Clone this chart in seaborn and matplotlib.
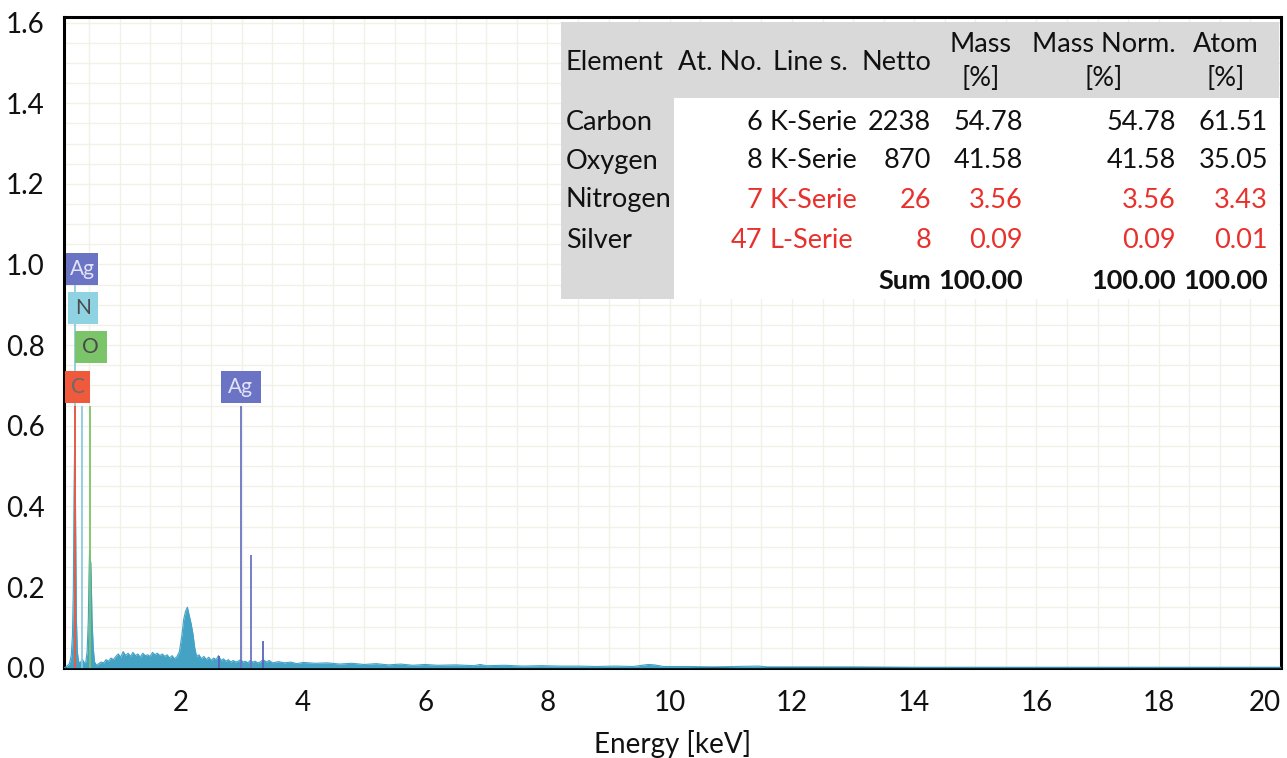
import numpy as np
import pandas as pd
import seaborn as sns
import matplotlib.pyplot as plt
from matplotlib.patches import Rectangle
from matplotlib.ticker import MultipleLocator

# ---------------- data ----------------
energy = [0.10, 0.14, 0.18, 0.21, 0.23, 0.245, 0.255, 0.265, 0.275, 0.285, 0.295, 0.31, 0.33,
          0.36, 0.39, 0.42, 0.45, 0.47, 0.49, 0.50, 0.51, 0.52, 0.53, 0.54, 0.55, 0.57, 0.59,
          0.62, 0.66, 0.70, 0.74, 0.78, 0.82, 0.86, 0.90, 0.94, 0.98, 1.02, 1.06, 1.10, 1.14,
          1.18, 1.22, 1.26, 1.30, 1.34, 1.38, 1.42, 1.46, 1.50, 1.54, 1.58, 1.62, 1.66, 1.70,
          1.74, 1.78, 1.82, 1.86, 1.90, 1.94, 1.98, 2.02, 2.05, 2.08, 2.11, 2.14, 2.17, 2.20,
          2.23, 2.26, 2.30, 2.34, 2.38, 2.42, 2.46, 2.50, 2.54, 2.58, 2.62, 2.66, 2.70, 2.74,
          2.78, 2.82, 2.86, 2.90, 2.94, 2.98, 3.02, 3.06, 3.10, 3.14, 3.18, 3.22, 3.26, 3.30,
          3.35, 3.40, 3.45, 3.50, 3.60, 3.70, 3.80, 3.90, 4.00, 4.2, 4.4, 4.6, 4.8, 5.0, 5.2,
          5.4, 5.6, 5.8, 6.0, 6.2, 6.5, 6.8, 6.9, 7.0, 7.3, 7.6, 7.9, 8.2, 8.5, 8.8, 9.1, 9.4,
          9.65, 9.75, 9.9, 10.3, 10.7, 11.1, 11.45, 11.6, 12.0, 13.0, 14.0, 16.0, 18.0, 20.0]
counts = [0.000, 0.004, 0.010, 0.030, 0.080, 0.200, 0.420, 0.540, 0.500, 0.300, 0.120, 0.040, 0.015,
          0.012, 0.022, 0.012, 0.015, 0.040, 0.120, 0.220, 0.290, 0.270, 0.260, 0.200, 0.120, 0.050, 0.015,
          0.006, 0.010, 0.014, 0.012, 0.020, 0.016, 0.024, 0.020, 0.028, 0.034, 0.026, 0.040, 0.030, 0.036,
          0.028, 0.038, 0.030, 0.034, 0.026, 0.036, 0.030, 0.032, 0.028, 0.038, 0.032, 0.036, 0.030, 0.034,
          0.028, 0.032, 0.024, 0.030, 0.022, 0.028, 0.040, 0.080, 0.120, 0.140, 0.150, 0.130, 0.110, 0.085,
          0.050, 0.028, 0.032, 0.022, 0.028, 0.020, 0.026, 0.018, 0.024, 0.020, 0.030, 0.018, 0.022, 0.016,
          0.020, 0.014, 0.018, 0.014, 0.016, 0.020, 0.014, 0.016, 0.012, 0.018, 0.014, 0.016, 0.012, 0.014,
          0.020, 0.014, 0.018, 0.012, 0.015, 0.012, 0.014, 0.010, 0.013, 0.011, 0.012, 0.009, 0.011, 0.008, 0.010,
          0.007, 0.009, 0.006, 0.008, 0.006, 0.007, 0.005, 0.008, 0.005, 0.006, 0.004, 0.005, 0.004, 0.004, 0.003, 0.004, 0.003,
          0.008, 0.007, 0.003, 0.003, 0.002, 0.003, 0.004, 0.002, 0.002, 0.002, 0.001, 0.001, 0.001, 0.001]

# element marker lines (energy keV, height, colour)
line_energy = [0.265, 0.277, 0.392, 0.525, 2.634, 2.984, 3.151, 3.348]
line_height = [0.95, 0.65, 0.65, 0.65, 0.03, 0.65, 0.28, 0.065]
line_color = ["#8ccbe0", "#e8553c", "#8ccbe0", "#7cc46a", "#5a64b8", "#6b74c4", "#6b74c4", "#5a64b8"]

# element labels
label_text = ["Ag", "N", "O", "C", "Ag"]
label_x = [0.39, 0.41, 0.53, 0.316, 2.98]
label_y = [0.989, 0.891, 0.795, 0.697, 0.697]
label_face = ["#6b74c4", "#8fd3e3", "#7cc46a", "#ef5a3c", "#6b74c4"]
label_tcol = ["#e2e3f7", "#4a4a4a", "#4a4a4a", "#6a6a6a", "#e2e3f7"]
label_wpx = [32, 30, 32, 25, 40]

# quantification table
elements = ["Carbon", "Oxygen", "Nitrogen", "Silver"]
at_no = ["6", "8", "7", "47"]
line_s = ["K-Serie", "K-Serie", "K-Serie", "L-Serie"]
netto = ["2238", "870", "26", "8"]
mass = ["54.78", "41.58", "3.56", "0.09"]
mass_norm = ["54.78", "41.58", "3.56", "0.09"]
atom = ["61.51", "35.05", "3.43", "0.01"]
row_red = [False, False, True, True]
sums = ["100.00", "100.00", "100.00"]

# ---------------- drawing ----------------
sns.set_style("white")
plt.rcParams['font.family'] = ['Lato', 'DejaVu Sans']

W, H = 1287, 758
fig = plt.figure(figsize=(W / 100, H / 100), dpi=100)
ax = fig.add_axes([64 / W, 1 - 667.7 / H, (1281 - 64) / W, (667.7 - 17.3) / H])

xlo, xhi, ylo, yhi = 0.092, 20.0, 0.0, 1.613
ax.set_xlim(xlo, xhi)
ax.set_ylim(ylo, yhi)
pxx = (xhi - xlo) / (1281 - 64)
pxy = (yhi - ylo) / (667.7 - 17.3)

spec = pd.DataFrame({"Energy": energy, "Counts": counts})
teal = "#44a2c5"
ax.fill_between(spec["Energy"], 0, spec["Counts"], color=teal, lw=0, zorder=3)
sns.lineplot(data=spec, x="Energy", y="Counts", color=teal, lw=0.8, ax=ax, zorder=3)

ax.vlines(line_energy, 0, line_height, colors=line_color, lw=1.3, zorder=4)

for t, xc, yc, fc, tc, wp in zip(label_text, label_x, label_y, label_face, label_tcol, label_wpx):
    w = wp * pxx
    h = 32 * pxy
    ax.add_patch(Rectangle((xc - w / 2, yc - h / 2), w, h, facecolor=fc, edgecolor="none", zorder=5))
    ax.text(xc, yc, t, ha="center", va="center", fontsize=15, color=tc, zorder=6)

# ticks / grid
ax.xaxis.set_minor_locator(MultipleLocator(0.5))
ax.yaxis.set_minor_locator(MultipleLocator(0.05))
ax.set_xticks([2, 4, 6, 8, 10, 12, 14, 16, 18, 20])
ax.set_xticklabels(["2", "4", "6", "8", "10", "12", "14", "16", "18", "20"])
ax.set_yticks([0.0, 0.2, 0.4, 0.6, 0.8, 1.0, 1.2, 1.4, 1.6])
ax.set_yticklabels(["0.0", "0.2", "0.4", "0.6", "0.8", "1.0", "1.2", "1.4", "1.6"])
ax.grid(True, which="both", color="#f2f0e7", lw=1.0, zorder=0)
ax.set_axisbelow(True)
ax.tick_params(axis="both", which="both", direction="out", color="black", width=2.0,
               labelsize=20, labelcolor="#111111")
ax.tick_params(axis="x", which="major", length=11, pad=5)
ax.tick_params(axis="x", which="minor", length=7)
ax.tick_params(axis="y", which="both", length=9, pad=5)
for s in ax.spines.values():
    s.set_visible(True)
    s.set_color("black")
    s.set_linewidth(2.2)
ax.set_xlabel("Energy [keV]", fontsize=20, color="#111111", labelpad=10)
ax.set_ylabel("")

# keep the last x label inside the figure
ax.get_xticklabels()[-1].set_horizontalalignment("right")

# ---------------- table ----------------
def fx(p):
    return p / W

def fy(p):
    return 1 - p / H

grey = "#d9d9d9"
fig.add_artist(Rectangle((fx(561), fy(299)), fx(1279) - fx(561), fy(22) - fy(299),
                         transform=fig.transFigure, facecolor="white", edgecolor="none", zorder=5))
fig.add_artist(Rectangle((fx(561), fy(98)), fx(1279) - fx(561), fy(22) - fy(98),
                         transform=fig.transFigure, facecolor=grey, edgecolor="none", zorder=6))
fig.add_artist(Rectangle((fx(561), fy(299)), fx(674) - fx(561), fy(98) - fy(299),
                         transform=fig.transFigure, facecolor=grey, edgecolor="none", zorder=6))

fs = 19.5
def ftxt(x, y, s, ha="left", color="#111111", weight="normal"):
    fig.text(fx(x), fy(y), s, ha=ha, va="center", fontsize=fs, color=color,
             fontweight=weight, zorder=7)

ftxt(566, 62, "Element")
ftxt(678, 62, "At. No.")
ftxt(773, 62, "Line s.")
ftxt(862, 62, "Netto")
ftxt(981, 44, "Mass", ha="center")
ftxt(981, 78, "[%]", ha="center")
ftxt(1104, 44, "Mass Norm.", ha="center")
ftxt(1104, 78, "[%]", ha="center")
ftxt(1226, 44, "Atom", ha="center")
ftxt(1226, 78, "[%]", ha="center")

red = "#e8312c"
row_y = [122, 161, 200, 240]
for i, yy in enumerate(row_y):
    c = red if row_red[i] else "#111111"
    ftxt(566, yy, elements[i])
    ftxt(762, yy, at_no[i], ha="right", color=c)
    ftxt(769, yy, line_s[i], color=c)
    ftxt(931, yy, netto[i], ha="right", color=c)
    ftxt(1023, yy, mass[i], ha="right", color=c)
    ftxt(1176, yy, mass_norm[i], ha="right", color=c)
    ftxt(1268, yy, atom[i], ha="right", color=c)

ftxt(931, 281, "Sum", ha="right", weight="bold")
ftxt(1023, 281, sums[0], ha="right", weight="bold")
ftxt(1176, 281, sums[1], ha="right", weight="bold")
ftxt(1268, 281, sums[2], ha="right", weight="bold")

fig.savefig("out.png", dpi=100)
